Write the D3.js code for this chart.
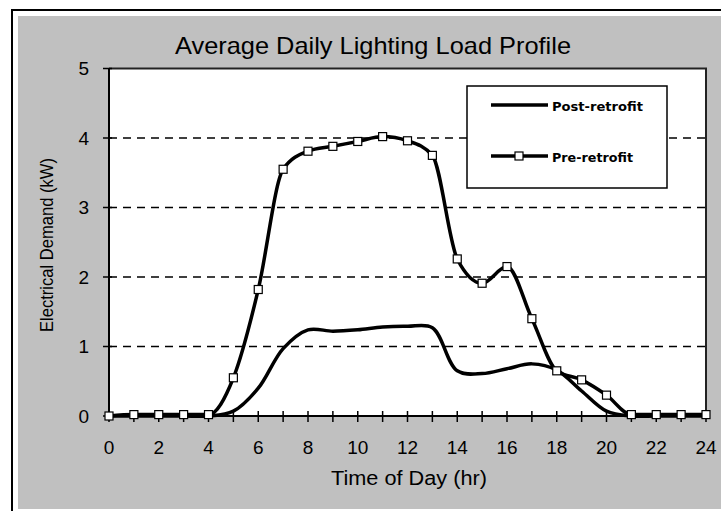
<!DOCTYPE html>
<html><head><meta charset="utf-8">
<script src="https://cdn.jsdelivr.net/npm/d3@7"></script>
<style>body{margin:0;background:#fff} svg{display:block}</style>
</head><body><svg id="c" width="721" height="511"></svg>
<script>
const hours = [0,1,2,3,4,5,6,7,8,9,10,11,12,13,14,15,16,17,18,19,20,21,22,23,24];
const preRetrofit = [0.00,0.02,0.02,0.02,0.02,0.55,1.82,3.55,3.81,3.88,3.95,4.02,3.96,3.75,2.26,1.91,2.15,1.40,0.65,0.52,0.30,0.02,0.02,0.02,0.02];
const postRetrofit = [0.00,0.00,0.00,0.00,0.00,0.07,0.40,0.97,1.24,1.22,1.24,1.28,1.29,1.27,0.65,0.61,0.68,0.75,0.66,0.36,0.07,0.00,0.00,0.00,0.00];
const xTickLabels = [0,2,4,6,8,10,12,14,16,18,20,22,24];
const yTickLabels = [0,1,2,3,4,5];
const gridValues = [1,2,3,4];
const titleText = "Average Daily Lighting Load Profile";
const xTitle = "Time of Day (hr)";
const yTitle = "Electrical Demand (kW)";
const seriesNames = ["Post-retrofit","Pre-retrofit"];

const svg = d3.select("#c");
const font = "Liberation Sans, Arial, sans-serif";
const L = 109, R = 706, T = 68.5, B = 416;
const x = d3.scaleLinear().domain([0,24]).range([L,R]);
const y = d3.scaleLinear().domain([0,5]).range([B,T]);

// background
svg.append("rect").attr("width",721).attr("height",511).attr("fill","#fff");
svg.append("rect").attr("x",18).attr("y",16).attr("width",710).attr("height",493).attr("fill","#c0c0c0");
svg.append("path").attr("d","M12,511V10H721").attr("fill","none").attr("stroke","#000").attr("stroke-width",2);

// plot area
svg.append("rect").attr("x",L).attr("y",T).attr("width",R-L).attr("height",B-T).attr("fill","#fff");
svg.selectAll(".grid").data(gridValues).join("line")
  .attr("x1",L).attr("x2",R).attr("y1",d=>y(d)).attr("y2",d=>y(d))
  .attr("stroke","#000").attr("stroke-width",1.5).attr("stroke-dasharray","8,6");
svg.append("path").attr("d",`M${L},${T}H${R}V${B}`).attr("fill","none").attr("stroke","#222").attr("stroke-width",2);

// axes
svg.append("line").attr("x1",L).attr("x2",L).attr("y1",T).attr("y2",B).attr("stroke","#000").attr("stroke-width",2);
svg.append("line").attr("x1",L).attr("x2",R).attr("y1",B).attr("y2",B).attr("stroke","#000").attr("stroke-width",2);
svg.selectAll(".yt").data(yTickLabels).join("line")
  .attr("x1",L-6).attr("x2",L+3).attr("y1",d=>y(d)).attr("y2",d=>y(d)).attr("stroke","#000").attr("stroke-width",1.5);
svg.selectAll(".xt").data(hours).join("line")
  .attr("x1",d=>x(d)).attr("x2",d=>x(d)).attr("y1",B-5).attr("y2",B+6).attr("stroke","#000").attr("stroke-width",1.5);

svg.selectAll(".yl").data(yTickLabels).join("text")
  .attr("x",L-20).attr("y",d=>y(d)).attr("dy","0.36em").attr("text-anchor","end")
  .attr("font-family",font).attr("font-size",19).text(d=>d);
svg.selectAll(".xl").data(xTickLabels).join("text")
  .attr("x",d=>x(d)).attr("y",454).attr("text-anchor","middle")
  .attr("font-family",font).attr("font-size",19).text(d=>d);

svg.append("text").attr("x",373).attr("y",54).attr("text-anchor","middle")
  .attr("font-family",font).attr("font-size",24).attr("textLength",396).attr("lengthAdjust","spacingAndGlyphs").text(titleText);
svg.append("text").attr("x",409).attr("y",485).attr("text-anchor","middle")
  .attr("font-family",font).attr("font-size",20).attr("textLength",156).attr("lengthAdjust","spacingAndGlyphs").text(xTitle);
svg.append("text").attr("transform","translate(53,245) rotate(-90)").attr("text-anchor","middle")
  .attr("font-family",font).attr("font-size",19).attr("textLength",174).attr("lengthAdjust","spacingAndGlyphs").text(yTitle);

// lines
const linePre = d3.line().x((d,i)=>x(hours[i])).y(d=>y(d)).curve(d3.curveMonotoneX);
const linePost = d3.line().x((d,i)=>x(hours[i])).y(d=>y(d)).curve(d3.curveCatmullRom.alpha(0.5));
svg.append("path").attr("d",linePost(postRetrofit)).attr("fill","none").attr("stroke","#000").attr("stroke-width",3.5).attr("stroke-linejoin","round");
svg.append("path").attr("d",linePre(preRetrofit)).attr("fill","none").attr("stroke","#000").attr("stroke-width",3.5).attr("stroke-linejoin","round");
svg.selectAll(".mk").data(preRetrofit).join("rect")
  .attr("x",(d,i)=>x(hours[i])-4).attr("y",d=>y(d)-4).attr("width",8).attr("height",8)
  .attr("fill","#fff").attr("stroke","#000").attr("stroke-width",1.2);

// legend
const lg = svg.append("g");
lg.append("rect").attr("x",467).attr("y",86).attr("width",200).attr("height",102).attr("fill","#fff").attr("stroke","#000").attr("stroke-width",1.5);
lg.append("line").attr("x1",491).attr("x2",548).attr("y1",105).attr("y2",105).attr("stroke","#000").attr("stroke-width",3.5);
lg.append("line").attr("x1",491).attr("x2",548).attr("y1",156).attr("y2",156).attr("stroke","#000").attr("stroke-width",3.5);
lg.append("rect").attr("x",515).attr("y",152).attr("width",8).attr("height",8).attr("fill","#fff").attr("stroke","#000").attr("stroke-width",1.2);
lg.append("text").attr("x",552).attr("y",111).attr("font-family","DejaVu Sans Condensed, DejaVu Sans, sans-serif").attr("font-weight","bold").attr("font-size",13)
  .attr("textLength",91).attr("lengthAdjust","spacingAndGlyphs").text(seriesNames[0]);
lg.append("text").attr("x",552).attr("y",162).attr("font-family","DejaVu Sans Condensed, DejaVu Sans, sans-serif").attr("font-weight","bold").attr("font-size",13)
  .attr("textLength",81).attr("lengthAdjust","spacingAndGlyphs").text(seriesNames[1]);
</script></body></html>
